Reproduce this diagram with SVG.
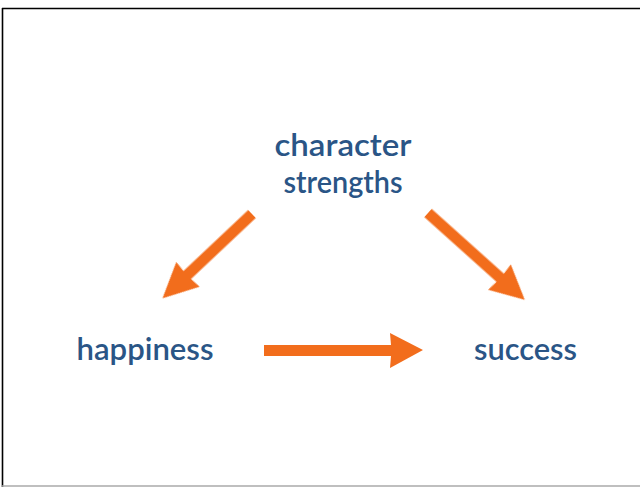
<svg xmlns="http://www.w3.org/2000/svg" width="640" height="487" viewBox="0 0 640 487">
  <defs>
    <style>
      .label { font-family: "Lato", "Open Sans", "DejaVu Sans", sans-serif; font-size: 31px; font-weight: 600; fill: #2a5586; text-anchor: middle; }
      .arrow { fill: #f26d1c; }
    </style>
    <filter id="soft" x="-20%" y="-20%" width="140%" height="140%">
      <feGaussianBlur stdDeviation="0.7"/>
    </filter>
  </defs>

  <rect x="0" y="0" width="640" height="487" fill="#ffffff"/>
  <!-- slide frame -->
  <line x1="2" y1="8.5" x2="640" y2="8.5" stroke="#000" stroke-width="1.6"/>
  <line x1="2.5" y1="8" x2="2.5" y2="487" stroke="#000" stroke-width="1.6"/>
  <line x1="2" y1="486" x2="640" y2="486" stroke="#aaaaaa" stroke-width="1.5"/>

  <g id="node-strengths">
    <text class="label" x="343" y="156" textLength="137" lengthAdjust="spacingAndGlyphs">character</text>
    <text class="label" x="343" y="193" textLength="119" lengthAdjust="spacingAndGlyphs">strengths</text>
  </g>
  <g id="node-happiness">
    <text class="label" x="145" y="360" textLength="137" lengthAdjust="spacingAndGlyphs">happiness</text>
  </g>
  <g id="node-success">
    <text class="label" x="525.5" y="360" textLength="103" lengthAdjust="spacingAndGlyphs">success</text>
  </g>

  <g id="connectors" filter="url(#soft)">
    <!-- happiness -> success -->
    <path class="arrow" d="M264 345 L391 345 L390 333 L423 350 L390 368 L391 356 L264 356 Z"/>
    <!-- strengths -> happiness -->
    <path class="arrow" transform="translate(252 214) rotate(136.7)" d="M0 -5.5 L89 -5.5 L88 -17 L123 0 L88 17 L89 5.5 L0 5.5 Z"/>
    <!-- strengths -> success -->
    <path class="arrow" transform="translate(428 213) rotate(41.9)" d="M0 -5.5 L97 -5.5 L96 -17 L130 0 L96 17 L97 5.5 L0 5.5 Z"/>
  </g>
</svg>
